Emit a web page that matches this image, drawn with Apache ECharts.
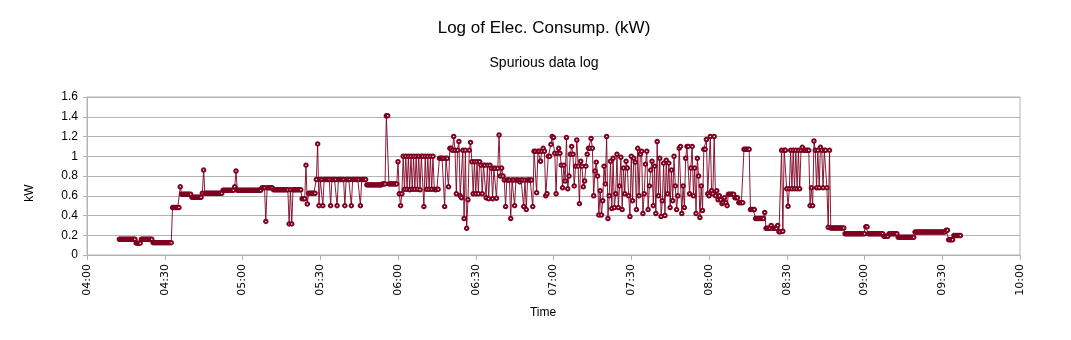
<!DOCTYPE html>
<html><head><meta charset="utf-8">
<script src="https://cdn.jsdelivr.net/npm/echarts@6/dist/echarts.min.js"></script>
<style>html,body{margin:0;padding:0;background:#fff}#c{width:1071px;height:340px}</style>
</head><body><div id="c"></div>
<script>
// x values are minutes after 04:00
const timeTicks = ['04:00','04:30','05:00','05:30','06:00','06:30','07:00','07:30','08:00','08:30','09:00','09:30','10:00'];
const sampleStep = 0.5; // logging interval (minutes)

// steady base level of the log: [fromMin, toMin, kW]
const baseRuns = [
  [12.5, 19, 0.16], [19, 21, 0.12], [21, 25.5, 0.16], [25.5, 33, 0.125],
  [33, 36, 0.48], [36, 40.5, 0.615], [40.5, 44.5, 0.585], [44.5, 52.5, 0.625],
  [52.5, 67.5, 0.655], [67.5, 72, 0.68], [72, 83, 0.66], [83, 85, 0.57],
  [85, 88.5, 0.625], [88.5, 108, 0.765], [108, 114, 0.71], [114, 120, 0.72],
  [120, 122, 0.945], [122, 136, 1.0], [136, 140, 0.98], [140, 141, 1.08],
  [141, 148.5, 1.06], [148.5, 152, 0.945], [152, 156, 0.91], [156, 159.5, 0.878],
  [159.5, 161, 0.8], [161, 172.5, 0.76], [172.5, 177.5, 1.05], [177.5, 179, 1.0],
  [179, 180.5, 1.12], [180.5, 183, 1.03], [183, 186.5, 0.91], [186.5, 188.5, 1.02],
  [188.5, 193.5, 0.9], [193.5, 195.5, 1.08], [195.5, 197, 0.94], [197, 200, 0.8],
  [200, 202, 0.72], [202, 205, 0.95], [205, 207, 0.99], [207, 209.5, 0.88],
  [209.5, 213.5, 0.94], [213.5, 215.5, 1.02], [215.5, 217, 0.92], [217, 220, 0.86],
  [220, 222.5, 0.82], [222.5, 225, 0.93], [225, 227.5, 0.86], [227.5, 230, 1.02],
  [230, 233, 0.98], [233, 236, 0.88], [236, 238, 0.8], [238, 239, 1.07],
  [239, 243.5, 1.17], [243.5, 245.5, 0.56], [245.5, 247.5, 0.53], [247.5, 250, 0.615],
  [250, 251.5, 0.58], [251.5, 253.5, 0.53], [253.5, 256, 1.07], [256, 258, 0.46],
  [258, 262, 0.37], [262, 267, 0.27], [267, 268, 0.235], [268, 287, 1.06],
  [287, 292.5, 0.273], [292.5, 300.5, 0.215], [300.5, 301.5, 0.285], [301.5, 307.5, 0.215],
  [307.5, 309.5, 0.19], [309.5, 313, 0.215], [313, 319.5, 0.18], [319.5, 331.5, 0.232],
  [331.5, 332.5, 0.25], [332.5, 334.5, 0.155], [334.5, 337.5, 0.197]
];

// spurious single readings: [minute, kW]
const spikes = [
  [36, 0.69], [45, 0.86], [57, 0.69], [57.5, 0.85], [69, 0.34], [78, 0.315], [79, 0.315],
  [84.5, 0.91], [85, 0.516], [89, 1.125],
  [89.5, 0.5], [91, 0.5], [94, 0.5], [96.5, 0.5], [99.5, 0.5], [102, 0.5], [105.5, 0.5],
  [115.5, 1.41], [116, 1.41], [120.5, 0.62], [121, 0.5], [121.5, 0.62],
  [122.5, 0.665], [123.5, 0.665], [124.5, 0.66], [125.5, 0.665], [126.5, 0.665], [127.5, 0.665],
  [128.5, 0.66], [130, 0.49], [131, 0.665], [132, 0.665], [133, 0.665], [134, 0.665],
  [134.5, 0.66], [135, 0.665], [135.5, 0.665],
  [138, 0.49], [139.5, 0.69], [141.5, 1.2], [142.5, 0.62], [143.5, 1.15], [144, 0.6], [144.5, 0.58],
  [145.5, 0.37], [146.5, 0.27], [147, 0.56], [148, 1.14],
  [149, 0.62], [150, 0.62], [151, 0.62], [152.5, 0.62], [154, 0.58], [155, 0.57], [156.5, 0.57], [158, 0.575],
  [159, 1.215], [160, 0.88],
  [161.5, 0.49], [163.5, 0.37], [165, 0.5], [167, 0.74], [168.5, 0.49], [169.5, 0.46], [172, 0.49],
  [173.5, 0.63], [175, 0.95], [176, 1.08], [177, 0.6], [177.5, 0.62], [179.5, 1.2], [180, 1.19],
  [181, 0.62], [182, 1.08], [183.5, 0.68], [184.5, 0.75], [185, 1.19], [185.5, 0.67], [186, 0.8],
  [187, 1.1], [188, 0.7], [189, 1.165], [190, 0.52], [190.5, 0.95], [191.5, 0.69], [192, 0.75],
  [193, 1.02], [194.5, 1.18], [195.5, 0.6], [196, 0.85], [197.5, 0.405], [198, 0.65], [198.5, 0.405],
  [199, 0.55], [199.5, 0.9], [200.5, 1.2], [201, 0.37], [201.5, 0.6], [202.5, 0.47], [203, 0.98],
  [203.5, 0.48], [204, 0.62], [204.5, 1.02], [205, 0.48], [205.5, 0.7], [206.5, 0.46], [207.5, 0.62],
  [208, 0.95], [209, 0.6], [209.5, 0.39], [210, 1.0], [210.5, 0.55], [211, 0.98], [212, 0.46],
  [212.5, 1.08], [213, 0.6], [214, 1.05], [214.5, 0.42], [215, 0.62], [216, 1.05], [216.5, 0.46],
  [217, 0.7], [218, 0.95], [218.5, 0.5], [219, 0.9], [219.5, 0.42], [220, 1.15], [220.5, 0.6],
  [221, 0.98], [221.5, 0.39], [222, 0.55], [223, 0.4], [223.5, 0.96], [224, 0.62], [225, 0.48],
  [226, 0.55], [226.5, 1.0], [227, 0.7], [227.5, 0.46], [228, 0.6], [228.5, 1.08], [229, 1.1],
  [229.5, 0.42], [230, 0.7], [230.5, 0.48], [231.5, 1.1], [232, 1.1], [232.5, 0.62], [233.5, 1.1],
  [234, 0.6], [235, 0.42], [235.5, 0.98], [236.5, 0.38], [237, 0.7], [237.5, 0.45],
  [239.5, 0.62], [240, 0.6], [240.5, 1.2], [241, 0.65], [241.5, 0.62], [242, 1.2], [242.5, 0.6], [243, 0.65],
  [244, 0.6], [245, 0.52], [246, 0.58], [247, 0.5], [261.5, 0.43], [264, 0.3], [266.5, 0.3],
  [268.5, 0.24], [270, 0.67], [270.5, 0.494], [271, 0.67], [272, 0.67], [273, 0.67], [274, 0.67],
  [275, 0.67], [276, 1.09], [279, 0.5], [279.5, 0.68], [280, 0.5], [280.5, 1.155], [281.5, 0.68],
  [282.5, 0.68], [283, 1.09], [284, 0.68], [285.5, 0.68], [286, 0.28]
];

const spikeAt = new Map(spikes.map(function (s) { return [s[0], s[1]]; }));
const logData = [];
baseRuns.forEach(function (r) {
  for (let t = r[0]; t < r[1]; t += sampleStep) {
    logData.push([t, spikeAt.has(t) ? spikeAt.get(t) : r[2]]);
  }
});

const chart = echarts.init(document.getElementById('c'), null, { renderer: 'canvas' });
const gridColor = '#b3b3b3';
const lineColor = '#7e0021';
chart.setOption({
  animation: false,
  backgroundColor: '#fff',
  grid: { left: 87, right: 51, top: 97, bottom: 85, show: true, borderColor: gridColor, borderWidth: 1 },
  xAxis: {
    type: 'value', min: 0, max: 360, interval: 30,
    axisLine: { lineStyle: { color: gridColor } },
    axisTick: { length: 5, lineStyle: { color: gridColor } },
    splitLine: { show: false },
    axisLabel: {
      rotate: 90, margin: 9, color: '#000', fontFamily: 'DejaVu Sans', fontSize: 11,
      formatter: function (v) { return timeTicks[Math.round(v / 30)]; }
    }
  },
  yAxis: {
    type: 'value', min: 0, max: 1.6, interval: 0.2,
    axisLine: { show: true, lineStyle: { color: gridColor } },
    axisTick: { show: true, length: 4, lineStyle: { color: gridColor } },
    splitLine: { lineStyle: { color: gridColor } },
    axisLabel: {
      margin: 9, color: '#000', fontFamily: 'Liberation Sans', fontSize: 12,
      formatter: function (v) { return String(parseFloat(v.toFixed(1))); }
    }
  },
  graphic: [
    { type: 'text', x: 544, y: 28, style: { text: 'Log of Elec. Consump. (kW)', fill: '#000', font: '17px "Liberation Sans"', textAlign: 'center', textVerticalAlign: 'middle' } },
    { type: 'text', x: 544, y: 63, style: { text: 'Spurious data log', fill: '#000', font: '14px "Liberation Sans"', textAlign: 'center', textVerticalAlign: 'middle' } },
    { type: 'text', x: 543, y: 313, style: { text: 'Time', fill: '#000', font: '12px "Liberation Sans"', textAlign: 'center', textVerticalAlign: 'middle' } },
    { type: 'text', x: 30, y: 193, rotation: Math.PI / 2, style: { text: 'kW', fill: '#000', font: '12px "Liberation Sans"', textAlign: 'center', textVerticalAlign: 'middle' } }
  ],
  series: [{
    name: 'kW', type: 'line', data: logData,
    symbol: 'emptyCircle', symbolSize: 3.5, showAllSymbol: true,
    lineStyle: { color: lineColor, width: 0.9 },
    itemStyle: { color: lineColor, borderColor: lineColor, borderWidth: 1.6 },
    emphasis: { disabled: true }
  }]
});
</script>
</body></html>
